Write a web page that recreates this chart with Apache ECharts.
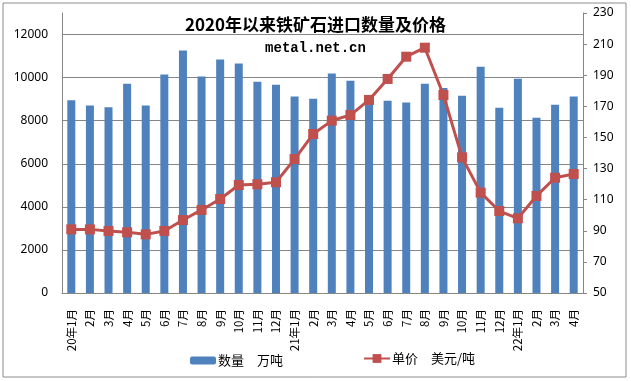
<!DOCTYPE html>
<html>
<head>
<meta charset="utf-8">
<script src="https://cdn.jsdelivr.net/npm/echarts@6/dist/echarts.min.js"></script>
<style>
html,body{margin:0;padding:0;background:#fff;}
#c{width:631px;height:381px;}
</style>
</head>
<body>
<div id="c"></div>
<script>
const categories = ['20年1月','2月','3月','4月','5月','6月','7月','8月','9月','10月','11月','12月',
  '21年1月','2月','3月','4月','5月','6月','7月','8月','9月','10月','11月','12月',
  '22年1月','2月','3月','4月'];
const volume = [8950,8700,8620,9720,8700,10140,11260,10050,10840,10650,9810,9670,
  9120,9020,10190,9860,9050,8930,8840,9720,9520,9160,10510,8600,
  9950,8140,8740,9120];
const price = [90.9,90.9,89.9,89.0,87.7,89.9,96.9,103.4,110.4,119.4,119.9,121.2,
  136.1,152.2,160.8,164.4,174.1,187.6,201.9,207.7,177.3,137.2,114.5,102.7,
  98.0,112.4,124.1,126.5];
const leftTicks = {min:0, max:13000, interval:2000};
const rightTicks = {min:50, max:230, interval:20};

const chart = echarts.init(document.getElementById('c'), null, {renderer:'canvas'});
const axisGrey = '#868686';
const cjk = '"Noto Sans CJK SC", "Noto Sans", sans-serif';
chart.setOption({
  backgroundColor:'#fff',
  animation:false,
  graphic:[{type:'rect', shape:{x:3,y:3,width:623,height:374}, style:{fill:'none', stroke:'#8c8c8c', lineWidth:1}, silent:true}],
  title:[
    {text:'2020年以来铁矿石进口数量及价格', left:'center', top:11,
     textStyle:{fontFamily:cjk, fontWeight:'bold', fontSize:17, color:'#000'}},
    {text:'metal.net.cn', left:'center', top:36,
     textStyle:{fontFamily:'"Liberation Mono", "DejaVu Sans Mono", monospace', fontWeight:'bold', fontSize:14, color:'#000'}}
  ],
  legend:[
    {data:[{name:'数量　万吨'}], left:185, top:349, itemWidth:26, itemHeight:8, itemGap:4,
     textStyle:{fontFamily:cjk, fontSize:13, color:'#000', padding:[0,0,0,-3]}},
    {data:[{name:'单价　美元/吨'}], left:358, top:347, itemWidth:26, itemHeight:11, itemGap:4,
     textStyle:{fontFamily:cjk, fontSize:13, color:'#000', padding:[0,0,0,-3]}}
  ],
  grid:{left:62, right:48, top:13, bottom:88, containLabel:false},
  xAxis:{
    type:'category', data:categories, boundaryGap:true,
    axisLine:{lineStyle:{color:axisGrey, width:1}},
    axisTick:{show:false},
    axisLabel:{rotate:90, margin:16, fontSize:11.5, color:'#000', fontFamily:cjk, interval:0}
  },
  yAxis:[
    {type:'value', min:leftTicks.min, max:leftTicks.max, interval:leftTicks.interval,
     axisLine:{show:true, lineStyle:{color:axisGrey}},
     axisTick:{show:false},
     axisLabel:{margin:14, fontSize:12, color:'#000', fontFamily:'"Noto Sans", sans-serif',
       formatter:v => v === 13000 ? '' : String(v)},
     splitLine:{show:true, showMinLine:false, showMaxLine:false, lineStyle:{color:axisGrey, width:1}}},
    {type:'value', min:rightTicks.min, max:rightTicks.max, interval:rightTicks.interval, position:'right',
     axisLine:{show:true, lineStyle:{color:axisGrey}},
     axisTick:{show:true, inside:false, length:4, lineStyle:{color:axisGrey}},
     axisLabel:{margin:10, fontSize:12, color:'#000', fontFamily:'"Noto Sans", sans-serif'},
     splitLine:{show:false}}
  ],
  series:[
    {name:'数量　万吨', type:'bar', data:volume, yAxisIndex:0, barWidth:8,
     itemStyle:{color:'#4F81BD'}},
    {name:'单价　美元/吨', type:'line', data:price, yAxisIndex:1,
     symbol:'rect', symbolSize:10, showAllSymbol:true,
     lineStyle:{color:'#C0504D', width:3},
     itemStyle:{color:'#C0504D'}, z:5}
  ]
});
</script>
</body>
</html>
